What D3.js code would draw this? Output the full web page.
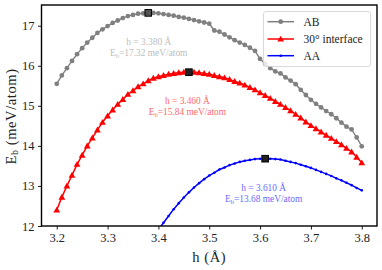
<!DOCTYPE html>
<html><head><meta charset="utf-8">
<script src="https://cdn.jsdelivr.net/npm/d3@7"></script>
<style>html,body{margin:0;padding:0;background:#fff;} svg{display:block;}</style>
</head><body>
<svg id="chart" width="382" height="270"></svg>
<script>
const heights = [3.20,3.21,3.22,3.23,3.24,3.25,3.26,3.27,3.28,3.29,3.30,3.31,3.32,3.33,3.34,3.35,3.36,3.37,3.38,3.39,3.40,3.41,3.42,3.43,3.44,3.45,3.46,3.47,3.48,3.49,3.50,3.51,3.52,3.53,3.54,3.55,3.56,3.57,3.58,3.59,3.60,3.61,3.62,3.63,3.64,3.65,3.66,3.67,3.68,3.69,3.70,3.71,3.72,3.73,3.74,3.75,3.76,3.77,3.78,3.79,3.80];
const abEnergy = [15.55,15.76,15.94,16.12,16.29,16.44,16.58,16.70,16.82,16.91,16.99,17.07,17.13,17.19,17.24,17.27,17.30,17.31,17.32,17.32,17.31,17.29,17.27,17.25,17.22,17.20,17.17,17.14,17.11,17.08,17.05,16.88,16.85,16.78,16.71,16.64,16.58,16.52,16.45,16.37,16.17,16.05,15.94,15.86,15.81,15.71,15.63,15.54,15.40,15.27,15.15,15.05,14.96,14.87,14.79,14.69,14.58,14.48,14.41,14.21,13.99];
const interfaceEnergy = [12.40,12.72,13.00,13.27,13.54,13.77,14.00,14.20,14.40,14.59,14.75,14.90,15.04,15.16,15.29,15.38,15.48,15.55,15.63,15.69,15.73,15.76,15.79,15.81,15.83,15.84,15.84,15.84,15.83,15.81,15.79,15.76,15.73,15.70,15.66,15.61,15.57,15.52,15.46,15.40,15.33,15.26,15.19,15.11,15.04,14.96,14.88,14.79,14.70,14.60,14.51,14.43,14.35,14.27,14.19,14.11,14.03,13.94,13.85,13.72,13.58];
const aaEnergy = [null,null,null,null,null,null,null,null,null,null,null,null,null,null,null,null,null,null,null,null,11.90,12.08,12.25,12.42,12.57,12.71,12.84,12.96,13.07,13.17,13.26,13.33,13.41,13.46,13.52,13.56,13.60,13.63,13.65,13.67,13.68,13.68,13.68,13.67,13.66,13.63,13.60,13.57,13.53,13.49,13.45,13.40,13.35,13.30,13.25,13.19,13.14,13.08,13.02,12.95,12.89];
const seriesNames = ["AB","30° interface","AA"];
const optHeights = [3.38, 3.46, 3.61];
const optEnergy = [17.32, 15.84, 13.68];
const optHLabels = ["3.380","3.460","3.610"];
const optELabels = ["17.32","15.84","13.68"];
const xTicks = [3.2,3.3,3.4,3.5,3.6,3.7,3.8];
const yTicks = [12,13,14,15,16,17];

const svg = d3.select("#chart");
const L = 41.5, R = 377, T = 5, B = 226;
const x = d3.scaleLinear().domain([3.17, 3.83]).range([L, R]);
const y = d3.scaleLinear().domain([12, 17.517]).range([B, T]);
const font = "'Liberation Serif','DejaVu Serif',serif";
const colors = ["#808080", "#ff0000", "#0000ff"];
const lightColors = ["#bdbdbd", "#ff6a6a", "#6a6aff"];

svg.append("defs").append("clipPath").attr("id","clip")
  .append("rect").attr("x",L).attr("y",T).attr("width",R-L).attr("height",B-T);

const series = [abEnergy, interfaceEnergy, aaEnergy].map(arr =>
  heights.map((h,i)=>({h, e:arr[i]})).filter(d=>d.e!==null));

const plot = svg.append("g").attr("clip-path","url(#clip)");
const line = d3.line().x(d=>x(d.h)).y(d=>y(d.e));
const tri = d3.symbol().type(d3.symbolTriangle).size(20);

series.forEach((data, si) => {
  plot.append("path").datum(data).attr("d", line)
    .attr("fill","none").attr("stroke",colors[si]).attr("stroke-width", si===0?1.4:1.5);
  if (si === 0) {
    plot.selectAll(null).data(data).enter().append("circle")
      .attr("cx",d=>x(d.h)).attr("cy",d=>y(d.e)).attr("r",2.4).attr("fill",colors[0]);
  } else if (si === 1) {
    plot.selectAll(null).data(data).enter().append("path")
      .attr("d",tri).attr("transform",d=>`translate(${x(d.h)},${y(d.e)+0.6})`).attr("fill",colors[1]);
  } else {
    plot.selectAll(null).data(data).enter().append("circle")
      .attr("cx",d=>x(d.h)).attr("cy",d=>y(d.e)).attr("r",1.3).attr("fill",colors[2]);
  }
});

// optimum markers
optHeights.forEach((h,i)=>{
  svg.append("rect").attr("x",x(h)-3.3).attr("y",y(optEnergy[i])-3.3)
    .attr("width",6.6).attr("height",6.6).attr("fill", i===0?"#555":"#222")
    .attr("stroke","#000").attr("stroke-width",1);
});

// annotations
optHeights.forEach((h,i)=>{
  const cx = x(h) - (i===0? -0.5 : 1.5);
  const by = y(optEnergy[i]) + 32;
  svg.append("text").attr("x",cx).attr("y",by).attr("text-anchor","middle")
    .attr("font-family",font).attr("font-size",9.4).attr("fill",lightColors[i])
    .text(`h = ${optHLabels[i]} Å`);
  const t2 = svg.append("text").attr("x",cx).attr("y",by+11).attr("text-anchor","middle")
    .attr("font-family",font).attr("font-size",9.4).attr("fill",lightColors[i]);
  t2.append("tspan").text("E");
  t2.append("tspan").attr("font-size",6.5).attr("dy",1.8).text("b");
  t2.append("tspan").attr("dy",-1.8).text(`=${optELabels[i]} meV/atom`);
});

// axes
const xAxis = d3.axisBottom(x).tickValues(xTicks).tickFormat(d3.format(".1f")).tickSize(3.5).tickPadding(4);
const yAxis = d3.axisLeft(y).tickValues(yTicks).tickFormat(d3.format("d")).tickSize(3.5).tickPadding(3.5);
const gx = svg.append("g").attr("transform",`translate(0,${B})`).call(xAxis);
const gy = svg.append("g").attr("transform",`translate(${L},0)`).call(yAxis);
[gx,gy].forEach(g=>{
  g.select(".domain").remove();
  g.selectAll(".tick line").attr("stroke","#000").attr("stroke-width",0.9);
  g.selectAll(".tick text").attr("font-family",font).attr("font-size",12.5).attr("fill","#222");
});

// frame
svg.append("rect").attr("x",L).attr("y",T).attr("width",R-L).attr("height",B-T)
  .attr("fill","none").attr("stroke","#000").attr("stroke-width",1.4);

// axis titles
svg.append("text").attr("x",(L+R)/2).attr("y",262).attr("text-anchor","middle")
  .attr("font-family",font).attr("font-size",14.5).attr("letter-spacing",0.6).attr("fill","#222").text("h (Å)");
const yl = svg.append("text").attr("transform",`translate(15.5,${(T+B)/2+1}) rotate(-90)`)
  .attr("text-anchor","middle").attr("font-family",font).attr("font-size",14.5).attr("letter-spacing",0.6).attr("fill","#222");
yl.append("tspan").text("E");
yl.append("tspan").attr("font-size",10).attr("dy",2.8).text("b");
yl.append("tspan").attr("dy",-2.8).text(" (meV/atom)");

// legend
const lg = svg.append("g");
lg.append("rect").attr("x",263.5).attr("y",11.5).attr("width",107).attr("height",55).attr("rx",2.5)
  .attr("fill","#fff").attr("fill-opacity",0.8).attr("stroke","#d0d0d0").attr("stroke-width",0.8);
const rowY = [21.7, 39, 55.7];
seriesNames.forEach((name,i)=>{
  lg.append("line").attr("x1",267.5).attr("x2",294).attr("y1",rowY[i]).attr("y2",rowY[i])
    .attr("stroke",colors[i]).attr("stroke-width",1.5);
  if (i===0) lg.append("circle").attr("cx",280.7).attr("cy",rowY[i]).attr("r",2.4).attr("fill",colors[0]);
  else if (i===1) lg.append("path").attr("d",tri).attr("transform",`translate(280.7,${rowY[i]+0.6})`).attr("fill",colors[1]);
  else lg.append("circle").attr("cx",280.7).attr("cy",rowY[i]).attr("r",1.3).attr("fill",colors[2]);
  lg.append("text").attr("x",303.5).attr("y",rowY[i]+4).attr("font-family",font).attr("font-size",11.5)
    .attr("fill","#222").text(name);
});
</script>
</body></html>
